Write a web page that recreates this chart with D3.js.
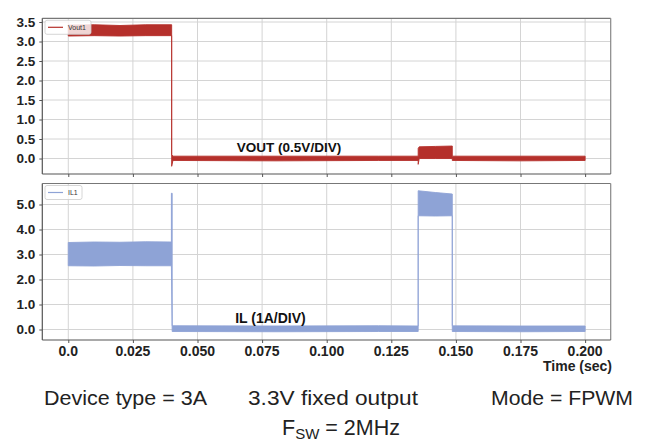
<!DOCTYPE html>
<html><head><meta charset="utf-8">
<script src="https://cdn.jsdelivr.net/npm/d3@7"></script>
<style>body{margin:0;background:#fff}svg{display:block}</style>
</head><body>
<svg id="c" width="647" height="442"></svg>
<script>
// ---- data ----
const xTicks = [0, 0.025, 0.05, 0.075, 0.1, 0.125, 0.15, 0.175, 0.2];
const xTickLabels = ["0.0","0.025","0.050","0.075","0.100","0.125","0.150","0.175","0.200"];
const vTicks = [0,0.5,1,1.5,2,2.5,3,3.5];
const iTicks = [0,1,2,3,4,5];

// Vout envelope (time, upper, lower)
const vT  = [0,    0.0100, 0.0200, 0.0300, 0.0400, 0.0400, 0.0405, 0.0800, 0.1200, 0.1354, 0.1354, 0.1358, 0.1420, 0.1486, 0.1486, 0.1750, 0.2000];
const vHi = [3.42, 3.43,   3.41,   3.43,   3.43,   0.10,   0.06,   0.06,   0.06,   0.06,   0.26,   0.30,   0.31,   0.32,   0.06,   0.06,   0.06];
const vLo = [3.14, 3.15,   3.14,   3.15,   3.15,  -0.20,  -0.05,  -0.06,  -0.05,  -0.05,  -0.15,   0.00,   0.00,   0.00,  -0.05,  -0.06,  -0.05];

// IL envelope (time, upper, lower)
const iT  = [0,    0.0100, 0.0200, 0.0300, 0.0399, 0.0399, 0.0402, 0.0402, 0.0800, 0.1200, 0.1354, 0.1354, 0.1420, 0.1486, 0.1486, 0.1750, 0.2000];
const iHi = [3.48, 3.50,   3.49,   3.51,   3.50,   5.45,   5.45,   0.15,   0.14,   0.15,   0.14,   5.55,   5.48,   5.42,   0.15,   0.14,   0.14];
const iLo = [2.55, 2.54,   2.56,   2.55,   2.55,   2.55,  -0.08,  -0.08,  -0.09,  -0.08,  -0.08,   4.55,   4.54,   4.55,  -0.08,  -0.09,  -0.08];

const vColor = "#b5302b", iColor = "#8ea3d6";

// ---- layout ----
const svg = d3.select("#c");
const L = 42.3, R = 610.7;
const x = d3.scaleLinear().domain([-0.01006, 0.2099]).range([L, R]);
const yV = d3.scaleLinear().domain([-0.397, 3.595]).range([174, 18.3]);
const yI = d3.scaleLinear().domain([-0.42, 5.84]).range([340, 183.5]);

function panel(y, ticks, fmt, T, Hi, Lo, color, legendLabel, lbl, lblX, lblY, lblSize) {
  const g = svg.append("g");
  const [y0, y1] = y.range();
  // grid
  g.selectAll(".gx").data(xTicks).join("line")
    .attr("x1", d => x(d)).attr("x2", d => x(d)).attr("y1", y1).attr("y2", y0)
    .attr("stroke", "#d4d4d4").attr("stroke-width", 1);
  g.selectAll(".gy").data(ticks).join("line")
    .attr("x1", L).attr("x2", R).attr("y1", d => y(d)).attr("y2", d => y(d))
    .attr("stroke", "#d4d4d4").attr("stroke-width", 1);
  // axes
  const ya = g.append("g").attr("transform", `translate(${L},0)`)
    .call(d3.axisLeft(y).tickValues(ticks).tickFormat(fmt).tickSize(3).tickPadding(4));
  ya.select(".domain").remove();
  ya.selectAll("line").attr("stroke", "#555");
  ya.selectAll("text").attr("font-family", "Liberation Sans, Arial, sans-serif")
    .attr("font-weight", "bold").attr("font-size", 13.5).attr("fill", "#222");
  const xa = g.append("g").attr("transform", `translate(0,${y0})`)
    .call(d3.axisBottom(x).tickValues(xTicks).tickFormat("").tickSize(3));
  xa.select(".domain").remove();
  xa.selectAll("line").attr("stroke", "#555");
  // envelope
  const idx = d3.range(T.length);
  g.append("path").datum(idx)
    .attr("d", d3.area().x(i => x(T[i])).y0(i => y(Lo[i])).y1(i => y(Hi[i])))
    .attr("fill", color).attr("stroke", color).attr("stroke-width", 0.9);
  // frame
  g.append("line").attr("x1", L).attr("x2", R).attr("y1", y1).attr("y2", y1).attr("stroke", "#777").attr("stroke-width", 1.2);
  g.append("line").attr("x1", R).attr("x2", R).attr("y1", y1).attr("y2", y0).attr("stroke", "#888").attr("stroke-width", 1.2);
  g.append("line").attr("x1", L).attr("x2", R).attr("y1", y0).attr("y2", y0).attr("stroke", "#555").attr("stroke-width", 1.2);
  g.append("line").attr("x1", L).attr("x2", L).attr("y1", y1).attr("y2", y0).attr("stroke", "#555").attr("stroke-width", 1.2);
  // legend
  const lg = g.append("g").attr("transform", `translate(45,${y1 + 2})`);
  lg.append("rect").attr("width", legendLabel.length > 3 ? 46 : 37).attr("height", 14).attr("rx", 2)
    .attr("fill", "#fff").attr("fill-opacity", 0.8).attr("stroke", "#ccc").attr("stroke-width", 0.8);
  lg.append("line").attr("x1", 3).attr("x2", 18).attr("y1", 7).attr("y2", 7).attr("stroke", color).attr("stroke-width", 1.2);
  lg.append("text").attr("x", 23).attr("y", 9.5).text(legendLabel)
    .attr("font-family", "Liberation Sans, Arial, sans-serif").attr("font-size", 7).attr("fill", "#333");
  // label
  g.append("text").attr("x", lblX).attr("y", lblY).attr("text-anchor", "middle").text(lbl)
    .attr("font-family", "Liberation Sans, Arial, sans-serif").attr("font-weight", "bold")
    .attr("font-size", lblSize).attr("fill", "#111");
  return g;
}

panel(yV, vTicks, d3.format(".1f"), vT, vHi, vLo, vColor, "Vout1", "VOUT (0.5V/DIV)", 289, 152, 13.5);
panel(yI, iTicks, d3.format(".1f"), iT, iHi, iLo, iColor, "IL1", "IL (1A/DIV)", 270.5, 323, 14);

// x tick labels (bottom panel)
svg.append("g").selectAll("text").data(xTicks).join("text")
  .attr("x", d => x(d)).attr("y", 356).attr("text-anchor", "middle")
  .text((d, i) => xTickLabels[i])
  .attr("font-family", "Liberation Sans, Arial, sans-serif").attr("font-weight", "bold")
  .attr("font-size", 14).attr("fill", "#222");
svg.append("text").attr("x", 612).attr("y", 371).attr("text-anchor", "end").text("Time (sec)")
  .attr("font-family", "Liberation Sans, Arial, sans-serif").attr("font-weight", "bold")
  .attr("font-size", 14).attr("fill", "#222");

// captions
const cap = [["Device type = 3A", 125.5, 163], ["3.3V fixed output", 333, 170], ["Mode = FPWM", 562, 142]];
svg.append("g").selectAll("text").data(cap).join("text")
  .attr("x", d => d[1]).attr("y", 405).attr("text-anchor", "middle").text(d => d[0])
  .attr("textLength", d => d[2]).attr("lengthAdjust", "spacingAndGlyphs")
  .attr("font-family", "Liberation Sans, Arial, sans-serif").attr("font-size", 20.5).attr("fill", "#222");
const f = svg.append("text").attr("x", 341).attr("y", 435).attr("text-anchor", "middle")
  .attr("font-family", "Liberation Sans, Arial, sans-serif").attr("font-size", 21.5).attr("fill", "#222");
f.append("tspan").text("F");
f.append("tspan").attr("font-size", 15).attr("dy", 4).text("SW");
f.append("tspan").attr("dy", -4).text(" = 2MHz");
</script>
</body></html>
